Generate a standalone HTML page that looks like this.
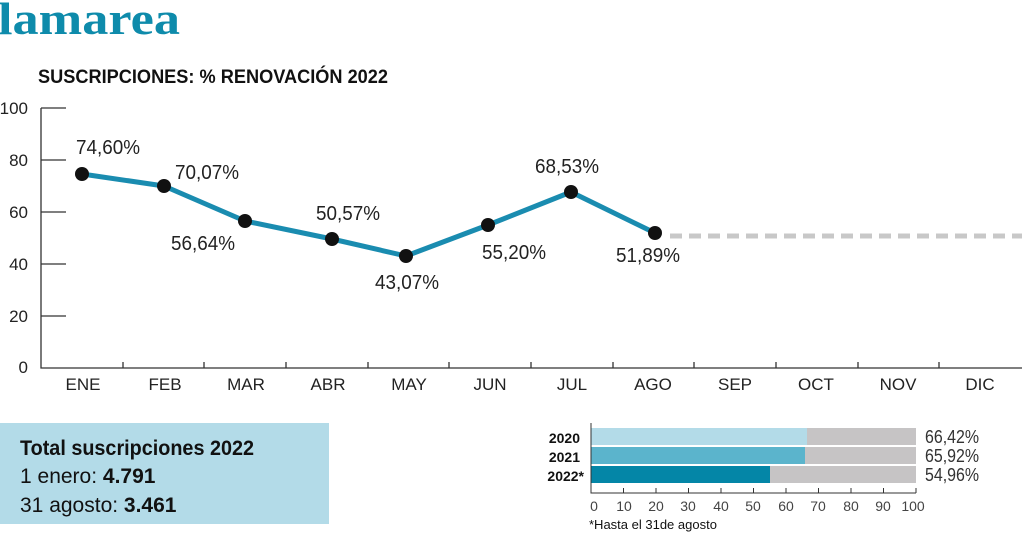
<!DOCTYPE html>
<html><head><meta charset="utf-8"><style>
body{margin:0;background:#fff;width:1024px;height:534px;overflow:hidden}
svg{display:block;font-family:"Liberation Sans",sans-serif}
</style></head><body>
<svg width="1024" height="534" viewBox="0 0 1024 534">
<text x="-2" y="34" font-family="Liberation Serif,serif" font-weight="bold" font-size="45" fill="#0e8bab" textLength="182" lengthAdjust="spacingAndGlyphs">lamarea</text>
<text x="38" y="83" font-weight="bold" font-size="19" fill="#111" textLength="350" lengthAdjust="spacingAndGlyphs">SUSCRIPCIONES: % RENOVACIÓN 2022</text>
<g font-size="17" fill="#222" text-anchor="end">
<text x="28" y="114">100</text><text x="28" y="166">80</text><text x="28" y="218">60</text><text x="28" y="270">40</text><text x="28" y="322">20</text><text x="28" y="373">0</text>
</g>
<g stroke="#333" stroke-width="1.3" fill="none">
<path d="M41 108V368H1022"/>
<path d="M41 108H66M41 160H66M41 212H66M41 264H66M41 316H66"/>
<path d="M123 368v-6M204 368v-6M286 368v-6M368 368v-6M449 368v-6M531 368v-6M613 368v-6M694 368v-6M776 368v-6M858 368v-6M939 368v-6"/>
</g>
<g font-size="17" fill="#222" text-anchor="middle">
<text x="83" y="390">ENE</text><text x="165" y="390">FEB</text><text x="246" y="390">MAR</text><text x="328" y="390">ABR</text><text x="409" y="390">MAY</text><text x="490" y="390">JUN</text><text x="572" y="390">JUL</text><text x="653" y="390">AGO</text><text x="735" y="390">SEP</text><text x="816" y="390">OCT</text><text x="898" y="390">NOV</text><text x="980" y="390">DIC</text>
</g>
<path d="M670 236H1022" stroke="#c8c8c8" stroke-width="5" stroke-dasharray="12 7"/>
<polyline points="82,174 164,186 245,221 332,239 406,256 488,225 571,192 655,233" fill="none" stroke="#1a8cb0" stroke-width="5" stroke-linejoin="round"/>
<g fill="#111">
<circle cx="82" cy="174" r="7"/><circle cx="164" cy="186" r="7"/><circle cx="245" cy="221" r="7"/><circle cx="332" cy="239" r="7"/><circle cx="406" cy="256" r="7"/><circle cx="488" cy="225" r="7"/><circle cx="571" cy="192" r="7"/><circle cx="655" cy="233" r="7"/>
</g>
<g font-size="20" fill="#222" text-anchor="middle">
<text x="108" y="154" textLength="64" lengthAdjust="spacingAndGlyphs">74,60%</text>
<text x="207" y="179" textLength="64" lengthAdjust="spacingAndGlyphs">70,07%</text>
<text x="203" y="250" textLength="64" lengthAdjust="spacingAndGlyphs">56,64%</text>
<text x="348" y="220" textLength="64" lengthAdjust="spacingAndGlyphs">50,57%</text>
<text x="407" y="289" textLength="64" lengthAdjust="spacingAndGlyphs">43,07%</text>
<text x="514" y="259" textLength="64" lengthAdjust="spacingAndGlyphs">55,20%</text>
<text x="567" y="173" textLength="64" lengthAdjust="spacingAndGlyphs">68,53%</text>
<text x="648" y="262" textLength="64" lengthAdjust="spacingAndGlyphs">51,89%</text>
</g>
<rect x="0" y="423" width="329" height="101" fill="#b3dbe8"/>
<text x="20" y="455" font-weight="bold" font-size="21" fill="#111" textLength="234" lengthAdjust="spacingAndGlyphs">Total suscripciones 2022</text>
<text x="20" y="483" font-size="21" fill="#111">1 enero: <tspan font-weight="bold">4.791</tspan></text>
<text x="20" y="512" font-size="21" fill="#111">31 agosto: <tspan font-weight="bold">3.461</tspan></text>
<rect x="591" y="428" width="325" height="17" fill="#c6c4c5"/>
<rect x="591" y="447" width="325" height="17" fill="#c6c4c5"/>
<rect x="591" y="466" width="325" height="17" fill="#c6c4c5"/>
<rect x="591" y="428" width="216" height="17" fill="#b3dbe8"/>
<rect x="591" y="447" width="214" height="17" fill="#5bb4cc"/>
<rect x="591" y="466" width="179" height="17" fill="#0486a7"/>
<g stroke="#333" stroke-width="1" fill="none"><path d="M591 423V493H916"/>
<path d="M623.5 493v-5M656 493v-5M688.5 493v-5M721 493v-5M753.5 493v-5M786 493v-5M818.5 493v-5M851 493v-5M883.5 493v-5M916 493v-5"/></g>
<g font-size="14" font-weight="bold" fill="#111" text-anchor="end">
<text x="580" y="443">2020</text><text x="580" y="462">2021</text><text x="584" y="481">2022*</text></g>
<g font-size="18" fill="#333"><text x="925" y="443" textLength="54" lengthAdjust="spacingAndGlyphs">66,42%</text><text x="925" y="462" textLength="54" lengthAdjust="spacingAndGlyphs">65,92%</text><text x="925" y="481" textLength="54" lengthAdjust="spacingAndGlyphs">54,96%</text></g>
<g font-size="14" fill="#444" text-anchor="middle">
<text x="594" y="511">0</text><text x="624" y="511">10</text><text x="656" y="511">20</text><text x="688" y="511">30</text><text x="721" y="511">40</text><text x="753" y="511">50</text><text x="786" y="511">60</text><text x="818" y="511">70</text><text x="851" y="511">80</text><text x="883" y="511">90</text><text x="913" y="511">100</text></g>
<text x="589" y="529" font-size="13" fill="#111">*Hasta el 31de agosto</text>
</svg>
</body></html>
